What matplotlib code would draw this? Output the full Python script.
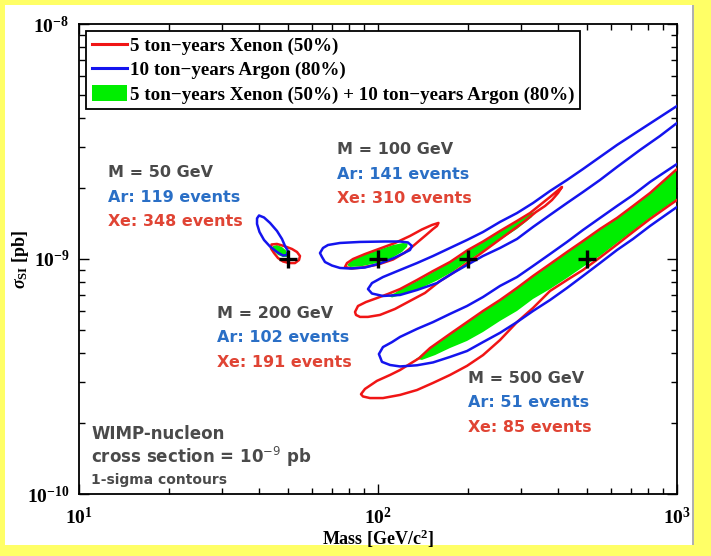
import math
import matplotlib
matplotlib.use("Agg")
import matplotlib.pyplot as plt
from matplotlib.lines import Line2D
from matplotlib.patches import Patch, Rectangle
import matplotlib.ticker as mticker

plt.rcParams["mathtext.fontset"] = "custom"
plt.rcParams["mathtext.rm"] = "Liberation Serif:bold"
plt.rcParams["mathtext.bf"] = "Liberation Serif:bold"
plt.rcParams["mathtext.it"] = "Liberation Serif:italic:bold"

UNIT = 1e-9  # sigma values below are in units of 1e-9 pb

# ---------------- benchmark points ----------------
bench_mass = [50, 100, 200, 500]
bench_sigma = [1.0, 1.0, 1.0, 1.0]

# ---------------- M = 50 GeV ----------------
ar50_m = [40.0, 41.57, 43.54, 45.94, 47.74, 48.86, 50.00, 49.62, 48.11, 45.94, 43.54, 41.57, 40.15, 39.39, 39.39]
ar50_s = [1.532, 1.502, 1.424, 1.316, 1.217, 1.136, 1.081, 1.040, 1.035, 1.071, 1.130, 1.205, 1.303, 1.410, 1.488]
xe50_m = [44.04, 45.94, 48.48, 51.57, 53.59, 54.84, 54.42, 52.77, 50.39, 48.11, 46.29, 44.90, 43.87]
xe50_s = [1.153, 1.159, 1.136, 1.103, 1.071, 1.030, 0.990, 0.961, 0.961, 0.976, 1.010, 1.060, 1.108]
both50_m = [44.56, 45.94, 47.74, 49.23, 50.00, 49.62, 48.11, 46.29, 44.90, 44.39]
both50_s = [1.136, 1.147, 1.125, 1.087, 1.050, 1.020, 1.020, 1.040, 1.081, 1.114]

# ---------------- M = 100 GeV ----------------
ar100_m = [63.97, 65.47, 68.03, 74.62, 87.05, 105.5, 118.5, 125.9, 129.9, 127.9, 122.2, 113.1, 101.5, 90.47, 80.60, 74.62, 70.16, 66.48, 64.96]
ar100_s = [1.060, 1.114, 1.147, 1.170, 1.182, 1.187, 1.187, 1.176, 1.136, 1.092, 1.060, 1.010, 0.957, 0.920, 0.911, 0.916, 0.938, 0.971, 1.020]
xe100_m = [77.55, 78.76, 82.49, 90.47, 101.5, 114.0, 127.9, 140.3, 151.6, 159.3, 157.5, 152.8, 144.8, 137.1, 129.9, 122.2, 112.3, 99.95, 88.40, 81.85]
xe100_s = [0.925, 0.961, 1.000, 1.050, 1.108, 1.170, 1.253, 1.336, 1.396, 1.424, 1.382, 1.342, 1.265, 1.193, 1.125, 1.060, 0.995, 0.947, 0.920, 0.911]
both100_m = [78.76, 81.85, 88.40, 99.19, 112.3, 121.3, 125.9, 125.0, 120.3, 109.7, 97.70, 87.05, 80.60]
both100_s = [0.943, 0.990, 1.035, 1.087, 1.147, 1.170, 1.164, 1.125, 1.071, 1.000, 0.957, 0.929, 0.925]

# ---------------- M = 200 GeV ----------------
ar200_m = [92.57, 95.47, 103.9, 118.5, 135.0, 152.8, 174.1, 198.5, 224.5, 255.9, 291.7, 330.0, 376.1, 428.7, 484.9,
           552.7, 630.0, 752.1, 877.3, 1000, 1194,
           1194, 1000, 877.3, 752.1, 630.0, 552.7, 484.9, 428.7, 376.1, 330.0, 291.7, 255.9, 224.5, 198.5, 178.2,
           157.5, 135.0, 118.5, 103.9, 95.47]
ar200_s = [0.745, 0.790, 0.838, 0.898, 0.961, 1.030, 1.114, 1.205, 1.303, 1.438, 1.569, 1.731, 1.947, 2.169, 2.415,
           2.717, 3.056, 3.540, 4.020, 4.479, 5.187,
           4.435, 3.791, 3.338, 2.910, 2.463, 2.169, 1.928, 1.731, 1.540, 1.369, 1.217, 1.114, 1.030, 0.943, 0.872,
           0.790, 0.738, 0.703, 0.696, 0.713]
xe200_m = [83.77, 85.72, 91.15, 99.19, 108.0, 118.5, 135.0, 152.8, 174.1, 198.5, 224.5, 255.9, 291.7, 322.4, 348.2,
           376.1, 393.8, 412.5, 400.0, 381.9, 361.9, 337.6, 310.2, 276.4, 246.2, 219.4, 198.5, 178.2, 161.2, 143.6,
           127.9, 114.0, 101.5, 92.57, 87.05, 84.41]
xe200_s = [0.595, 0.631, 0.656, 0.682, 0.710, 0.745, 0.814, 0.889, 0.971, 1.087, 1.187, 1.316, 1.452, 1.569, 1.698,
           1.836, 1.928, 2.025, 1.909, 1.783, 1.681, 1.585, 1.452, 1.303, 1.170, 1.050, 0.961, 0.872, 0.806, 0.717,
           0.663, 0.613, 0.578, 0.567, 0.567, 0.578]
both200_m = [108.0, 114.0, 118.5, 135.0, 152.8, 174.1, 198.5, 224.5, 255.9, 291.7, 322.4, 332.5,
             327.4, 291.7, 255.9, 224.5, 198.5, 178.2, 157.5, 138.2, 123.2, 111.4]
both200_s = [0.696, 0.717, 0.742, 0.806, 0.881, 0.976, 1.087, 1.187, 1.310, 1.445, 1.562, 1.585,
             1.510, 1.342, 1.205, 1.081, 0.976, 0.885, 0.810, 0.749, 0.710, 0.686]

# ---------------- M = 500 GeV ----------------
ar500_m = [100.7, 103.9, 111.4, 118.5, 135.0, 152.8, 174.1, 198.5, 224.5, 255.9, 291.7, 330.0, 376.1, 428.7, 484.9,
           552.7, 630.0, 712.6, 812.3, 1000, 1194,
           1194, 1000, 812.3, 712.6, 630.0, 552.7, 484.9, 428.7, 376.1, 330.0, 291.7, 255.9, 224.5, 198.5, 174.1,
           152.8, 135.0, 118.5, 109.7, 103.1]
ar500_s = [0.394, 0.422, 0.443, 0.466, 0.504, 0.539, 0.584, 0.631, 0.689, 0.768, 0.838, 0.934, 1.050, 1.182, 1.329,
           1.495, 1.681, 1.872, 2.127, 2.537, 2.910,
           1.947, 1.665, 1.382, 1.217, 1.092, 0.961, 0.847, 0.753, 0.669, 0.601, 0.539, 0.485, 0.443, 0.406, 0.383,
           0.363, 0.353, 0.349, 0.354, 0.365]
xe500_m = [87.72, 90.47, 99.19, 109.7, 118.5, 127.9, 137.1, 149.3, 174.1, 198.5, 224.5, 255.9, 291.7, 330.0, 376.1,
           428.7, 484.9, 552.7, 630.0, 712.6, 812.3, 1000, 1194,
           1194, 1000, 812.3, 712.6, 630.0, 552.7, 484.9, 428.7, 376.1, 330.0, 291.7, 255.9, 224.5, 198.5, 174.1,
           152.8, 135.0, 118.5, 103.9, 94.01, 89.09]
xe500_s = [0.266, 0.280, 0.303, 0.321, 0.337, 0.358, 0.378, 0.418, 0.480, 0.539, 0.601, 0.669, 0.753, 0.847, 0.952,
           1.071, 1.193, 1.342, 1.495, 1.681, 1.909, 2.415, 2.910,
           2.086, 1.783, 1.480, 1.303, 1.153, 1.015, 0.898, 0.814, 0.731, 0.619, 0.539, 0.452, 0.390, 0.351, 0.321,
           0.297, 0.277, 0.264, 0.256, 0.256, 0.260]
both500_m = [137.1, 149.3, 174.1, 198.5, 224.5, 255.9, 291.7, 330.0, 376.1, 428.7, 484.9, 552.7, 630.0, 712.6, 812.3,
             1000, 1194,
             1194, 1000, 812.3, 712.6, 630.0, 552.7, 484.9, 428.7, 376.1, 330.0, 291.7, 255.9, 224.5, 198.5, 174.1,
             155.2, 140.3, 133.9]
both500_s = [0.383, 0.418, 0.480, 0.539, 0.601, 0.669, 0.753, 0.847, 0.952, 1.071, 1.193, 1.342, 1.495, 1.681, 1.909,
             2.415, 2.910,
             2.106, 1.800, 1.495, 1.316, 1.170, 1.030, 0.925, 0.830, 0.745, 0.676, 0.601, 0.545, 0.489, 0.448, 0.418,
             0.390, 0.372, 0.376]

legend_labels = ["5 ton\u2212years Xenon (50%)",
                 "10 ton\u2212years Argon (80%)",
                 "5 ton\u2212years Xenon (50%) + 10 ton\u2212years Argon (80%)"]

annotations = [
    ("M = 50 GeV", "Ar: 119 events", "Xe: 348 events"),
    ("M = 100 GeV", "Ar: 141 events", "Xe: 310 events"),
    ("M = 200 GeV", "Ar: 102 events", "Xe: 191 events"),
    ("M = 500 GeV", "Ar: 51 events", "Xe: 85 events"),
]
annot_pos = [(0.0485, 0.683), (0.431, 0.732), (0.2303, 0.3845), (0.6505, 0.2461)]

RED = "#f01515"
BLUE = "#1414ee"
GREEN = "#00ee00"
TXT_GRAY = "#4a4a4a"
TXT_BLUE = "#2a6fc6"
TXT_RED = "#e04434"

W, H = 711, 556
fig = plt.figure(figsize=(W / 100, H / 100), dpi=100, facecolor="#ffff66")
fig.patches.append(Rectangle((5 / W, 1 - 545 / H), (692 - 5) / W, (545 - 5) / H,
                             transform=fig.transFigure, facecolor="white", edgecolor="none", zorder=-10))
fig.patches.append(Rectangle((692 / W, 1 - 545 / H), 2 / W, (545 - 5) / H,
                             transform=fig.transFigure, facecolor="#b0b0b0", edgecolor="none", zorder=-10))

ax = fig.add_axes([79 / W, 1 - 494 / H, 598 / W, 470 / H])
ax.set_xscale("log")
ax.set_yscale("log")
ax.set_xlim(10, 1000)
ax.set_ylim(1e-10, 1e-8)


def sc(vals):
    return [v * UNIT for v in vals]


for m, s in [(both50_m, both50_s), (both100_m, both100_s), (both200_m, both200_s), (both500_m, both500_s)]:
    ax.fill(m, sc(s), color=GREEN, lw=0, zorder=2)
for m, s in [(xe50_m, xe50_s), (xe100_m, xe100_s), (xe200_m, xe200_s), (xe500_m, xe500_s)]:
    ax.fill(m, sc(s), facecolor="none", edgecolor=RED, lw=1.8, joinstyle="round", zorder=3)
for m, s in [(ar50_m, ar50_s), (ar100_m, ar100_s), (ar200_m, ar200_s), (ar500_m, ar500_s)]:
    ax.fill(m, sc(s), facecolor="none", edgecolor=BLUE, lw=1.8, joinstyle="round", zorder=4)

ax.plot(bench_mass, sc(bench_sigma), linestyle="none", marker="+", color="black",
        markersize=13, markeredgewidth=2.4, zorder=6)

# ticks
ax.tick_params(which="both", direction="in", top=True, right=True, width=1.0)
ax.tick_params(which="major", length=7, pad=7)
ax.tick_params(axis="x", which="major", pad=9)
ax.tick_params(which="minor", length=4)
ax.xaxis.set_major_locator(mticker.FixedLocator([10, 100, 1000]))
ax.yaxis.set_major_locator(mticker.FixedLocator([1e-10, 1e-9, 1e-8]))
ax.xaxis.set_minor_locator(mticker.LogLocator(base=10, subs=range(2, 10), numticks=20))
ax.yaxis.set_minor_locator(mticker.LogLocator(base=10, subs=range(2, 10), numticks=20))
ax.xaxis.set_minor_formatter(mticker.NullFormatter())
ax.yaxis.set_minor_formatter(mticker.NullFormatter())


def fmt(v, pos):
    e = int(round(math.log10(v)))
    return r"$10^{%d}$" % e


ax.xaxis.set_major_formatter(mticker.FuncFormatter(fmt))
ax.yaxis.set_major_formatter(mticker.FuncFormatter(fmt))
for lab in ax.get_xticklabels() + ax.get_yticklabels():
    lab.set_fontsize(14)

for sp in ax.spines.values():
    sp.set_linewidth(1.3)

ax.set_xlabel(r"Mass [GeV/c$^{2}$]", family="Liberation Serif", weight="bold", fontsize=13)
ax.set_ylabel(r"$\sigma_{\rm SI}$ [pb]", family="Liberation Serif", weight="bold", fontsize=13)
ax.xaxis.set_label_coords(0.5, -0.072)
ax.yaxis.set_label_coords(-0.08, 0.5)

# legend
handles = [Line2D([], [], color=RED, lw=2.2),
           Line2D([], [], color=BLUE, lw=2.2),
           Patch(facecolor=GREEN, edgecolor="none")]
leg = ax.legend(handles, legend_labels, loc="upper left", bbox_to_anchor=(7 / 598, 1 - 7 / 470),
                borderaxespad=0, fancybox=False, framealpha=1, edgecolor="black",
                prop=dict(family="Liberation Serif", weight="bold", size=13.7),
                handlelength=1.85, handleheight=0.9, handletextpad=0.15, labelspacing=0.3,
                borderpad=0.3)
leg.get_frame().set_linewidth(1.3)
leg.set_zorder(10)

# annotations
tkw = dict(transform=ax.transAxes, ha="left", va="center", family="DejaVu Sans",
           weight="bold", fontsize=11.5, zorder=8)
dy = 0.052
for (t1, t2, t3), (x, y) in zip(annotations, annot_pos):
    ax.text(x, y, t1, color=TXT_GRAY, **tkw)
    ax.text(x, y - dy, t2, color=TXT_BLUE, **tkw)
    ax.text(x, y - 2 * dy, t3, color=TXT_RED, **tkw)

wkw = dict(transform=ax.transAxes, ha="left", va="center", family="DejaVu Sans",
           weight="bold", zorder=8, color=TXT_GRAY)
ax.text(0.0201, 0.1277, "WIMP-nucleon", fontsize=12, **wkw)
ax.text(0.0201, 0.0794, "cross section = 10$^{-9}$ pb", fontsize=12,
        math_fontfamily="dejavusans", **wkw)
ax.text(0.0201, 0.0298, "1-sigma contours", fontsize=10, **wkw)

fig.savefig("out.png", dpi=100, facecolor=fig.get_facecolor())
